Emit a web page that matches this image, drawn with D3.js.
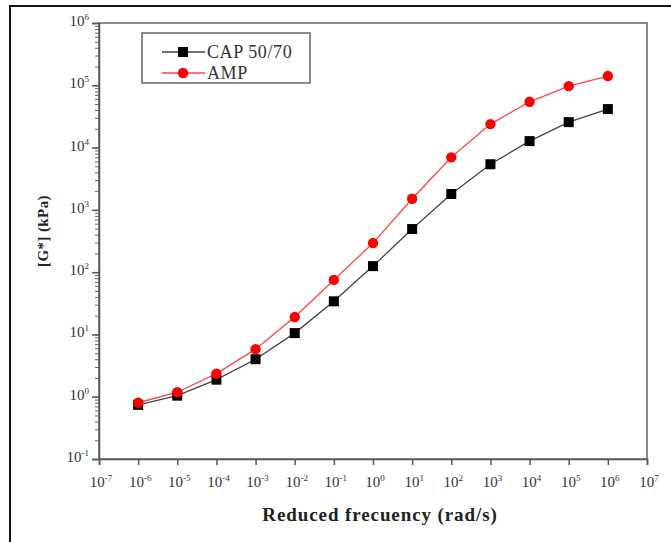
<!DOCTYPE html>
<html>
<head>
<meta charset="utf-8">
<script src="https://cdn.jsdelivr.net/npm/d3@7"></script>
<style>
  body { margin: 0; background: #fff; }
  text { font-family: "Liberation Serif", "DejaVu Serif", serif; }
</style>
</head>
<body>
<svg id="chart" width="671" height="542"></svg>
<script>
// data
const freq = [1e-6, 1e-5, 1e-4, 1e-3, 1e-2, 1e-1, 1e0, 1e1, 1e2, 1e3, 1e4, 1e5, 1e6];
const capValues = [0.74, 1.04, 1.88, 4.0, 10.5, 34, 125, 492, 1800, 5400, 12700, 25600, 41500];
const ampValues = [0.80, 1.18, 2.35, 5.8, 19, 75, 293, 1506, 6970, 23800, 54300, 97000, 140600];
const xTickExp = [-7, -6, -5, -4, -3, -2, -1, 0, 1, 2, 3, 4, 5, 6, 7];
const yTickExp = [-1, 0, 1, 2, 3, 4, 5, 6];
const seriesNames = ["CAP 50/70", "AMP"];

let svg = d3.select("#chart");

// outer frame of the figure
svg.append("path")
  .attr("d", "M10,545V6H675")
  .attr("fill", "none")
  .attr("stroke", "#111")
  .attr("stroke-width", 2);

let x = d3.scaleLog().domain([1e-7, 1e7]).range([99, 647]);
let y = d3.scaleLog().domain([0.1, 1e6]).range([459, 23]);

// plot box
svg.append("rect")
  .attr("x", x.range()[0]).attr("y", y.range()[1])
  .attr("width", x.range()[1] - x.range()[0])
  .attr("height", y.range()[0] - y.range()[1])
  .attr("fill", "none")
  .attr("stroke", "#666")
  .attr("stroke-width", 1.5);

// x axis
let xAxis = svg.append("g")
  .attr("transform", "translate(0," + y.range()[0] + ")")
  .call(d3.axisBottom(x)
    .tickValues(xTickExp.map(e => Math.pow(10, e)))
    .tickSize(6)
    .tickFormat(""));
xAxis.select(".domain").attr("stroke", "#555").attr("stroke-width", 1.5);
xAxis.selectAll(".tick line").attr("stroke", "#555").attr("stroke-width", 1.5);

// y axis, minor then major ticks
let yMinor = svg.append("g")
  .attr("transform", "translate(" + x.range()[0] + ",0)")
  .call(d3.axisLeft(y).ticks(70).tickSize(4).tickFormat(""));
yMinor.select(".domain").remove();
yMinor.selectAll(".tick line").attr("stroke", "#666").attr("stroke-width", 1);

let yAxis = svg.append("g")
  .attr("transform", "translate(" + x.range()[0] + ",0)")
  .call(d3.axisLeft(y)
    .tickValues(yTickExp.map(e => Math.pow(10, e)))
    .tickSize(7)
    .tickFormat(""));
yAxis.select(".domain").attr("stroke", "#555").attr("stroke-width", 1.5);
yAxis.selectAll(".tick line").attr("stroke", "#555").attr("stroke-width", 1.5);

function powLabel(sel) {
  sel.append("tspan").text("10");
  sel.append("tspan")
    .attr("dy", -6)
    .attr("font-size", 9)
    .text(d => d);
}

svg.append("g").selectAll("text")
  .data(xTickExp)
  .enter()
  .append("text")
    .attr("x", d => x(Math.pow(10, d)) + 2)
    .attr("y", 487)
    .attr("text-anchor", "middle")
    .attr("font-size", 15)
    .attr("fill", "#333")
    .call(powLabel);

svg.append("g").selectAll("text")
  .data(yTickExp)
  .enter()
  .append("text")
    .attr("x", 89)
    .attr("y", d => y(Math.pow(10, d)) + 3)
    .attr("text-anchor", "end")
    .attr("font-size", 15)
    .attr("fill", "#333")
    .call(powLabel);

// axis titles
svg.append("text")
  .attr("x", 380)
  .attr("y", 521)
  .attr("text-anchor", "middle")
  .attr("font-size", 19)
  .attr("font-weight", "bold")
  .attr("letter-spacing", 0.9)
  .attr("fill", "#222")
  .text("Reduced frecuency (rad/s)");

svg.append("text")
  .attr("transform", "translate(48,231) rotate(-90)")
  .attr("text-anchor", "middle")
  .attr("font-size", 15)
  .attr("font-weight", "bold")
  .attr("letter-spacing", 0.4)
  .attr("fill", "#222")
  .text("[G*] (kPa)");

// series
let line = d3.line()
  .x(d => x(d[0]))
  .y(d => y(d[1]));

let capData = freq.map((f, i) => [f, capValues[i]]);
let ampData = freq.map((f, i) => [f, ampValues[i]]);

svg.append("path")
  .datum(capData)
  .attr("d", line)
  .attr("fill", "none")
  .attr("stroke", "#444")
  .attr("stroke-width", 1.3);

svg.append("path")
  .datum(ampData)
  .attr("d", line)
  .attr("fill", "none")
  .attr("stroke", "#f44")
  .attr("stroke-width", 1.3);

svg.append("g").selectAll("rect")
  .data(capData)
  .enter()
  .append("rect")
    .attr("x", d => x(d[0]) - 5)
    .attr("y", d => y(d[1]) - 5)
    .attr("width", 10)
    .attr("height", 10)
    .attr("fill", "#000");

svg.append("g").selectAll("circle")
  .data(ampData)
  .enter()
  .append("circle")
    .attr("cx", d => x(d[0]))
    .attr("cy", d => y(d[1]))
    .attr("r", 5.2)
    .attr("fill", "#f00");

// legend
let legend = svg.append("g");
legend.append("rect")
  .attr("x", 142).attr("y", 33)
  .attr("width", 168).attr("height", 50)
  .attr("fill", "#fff")
  .attr("stroke", "#666")
  .attr("stroke-width", 1.5);

let entries = legend.selectAll("g.legendEntry")
  .data(seriesNames)
  .enter()
  .append("g").attr("class", "legendEntry")
  .attr("transform", (d, i) => "translate(0," + (52 + i * 21) + ")");

entries.append("line")
  .attr("x1", 162).attr("x2", 205)
  .attr("stroke", (d, i) => i == 0 ? "#444" : "#f44")
  .attr("stroke-width", 1.3);

entries.filter((d, i) => i == 0).append("rect")
  .attr("x", 178).attr("y", -5)
  .attr("width", 10).attr("height", 10)
  .attr("fill", "#000");

entries.filter((d, i) => i == 1).append("circle")
  .attr("cx", 183).attr("r", 5.2)
  .attr("fill", "#f00");

entries.append("text")
  .attr("x", 207)
  .attr("y", 6)
  .attr("font-size", 18)
  .attr("letter-spacing", 0.6)
  .attr("fill", "#333")
  .text(d => d);
</script>
</body>
</html>
